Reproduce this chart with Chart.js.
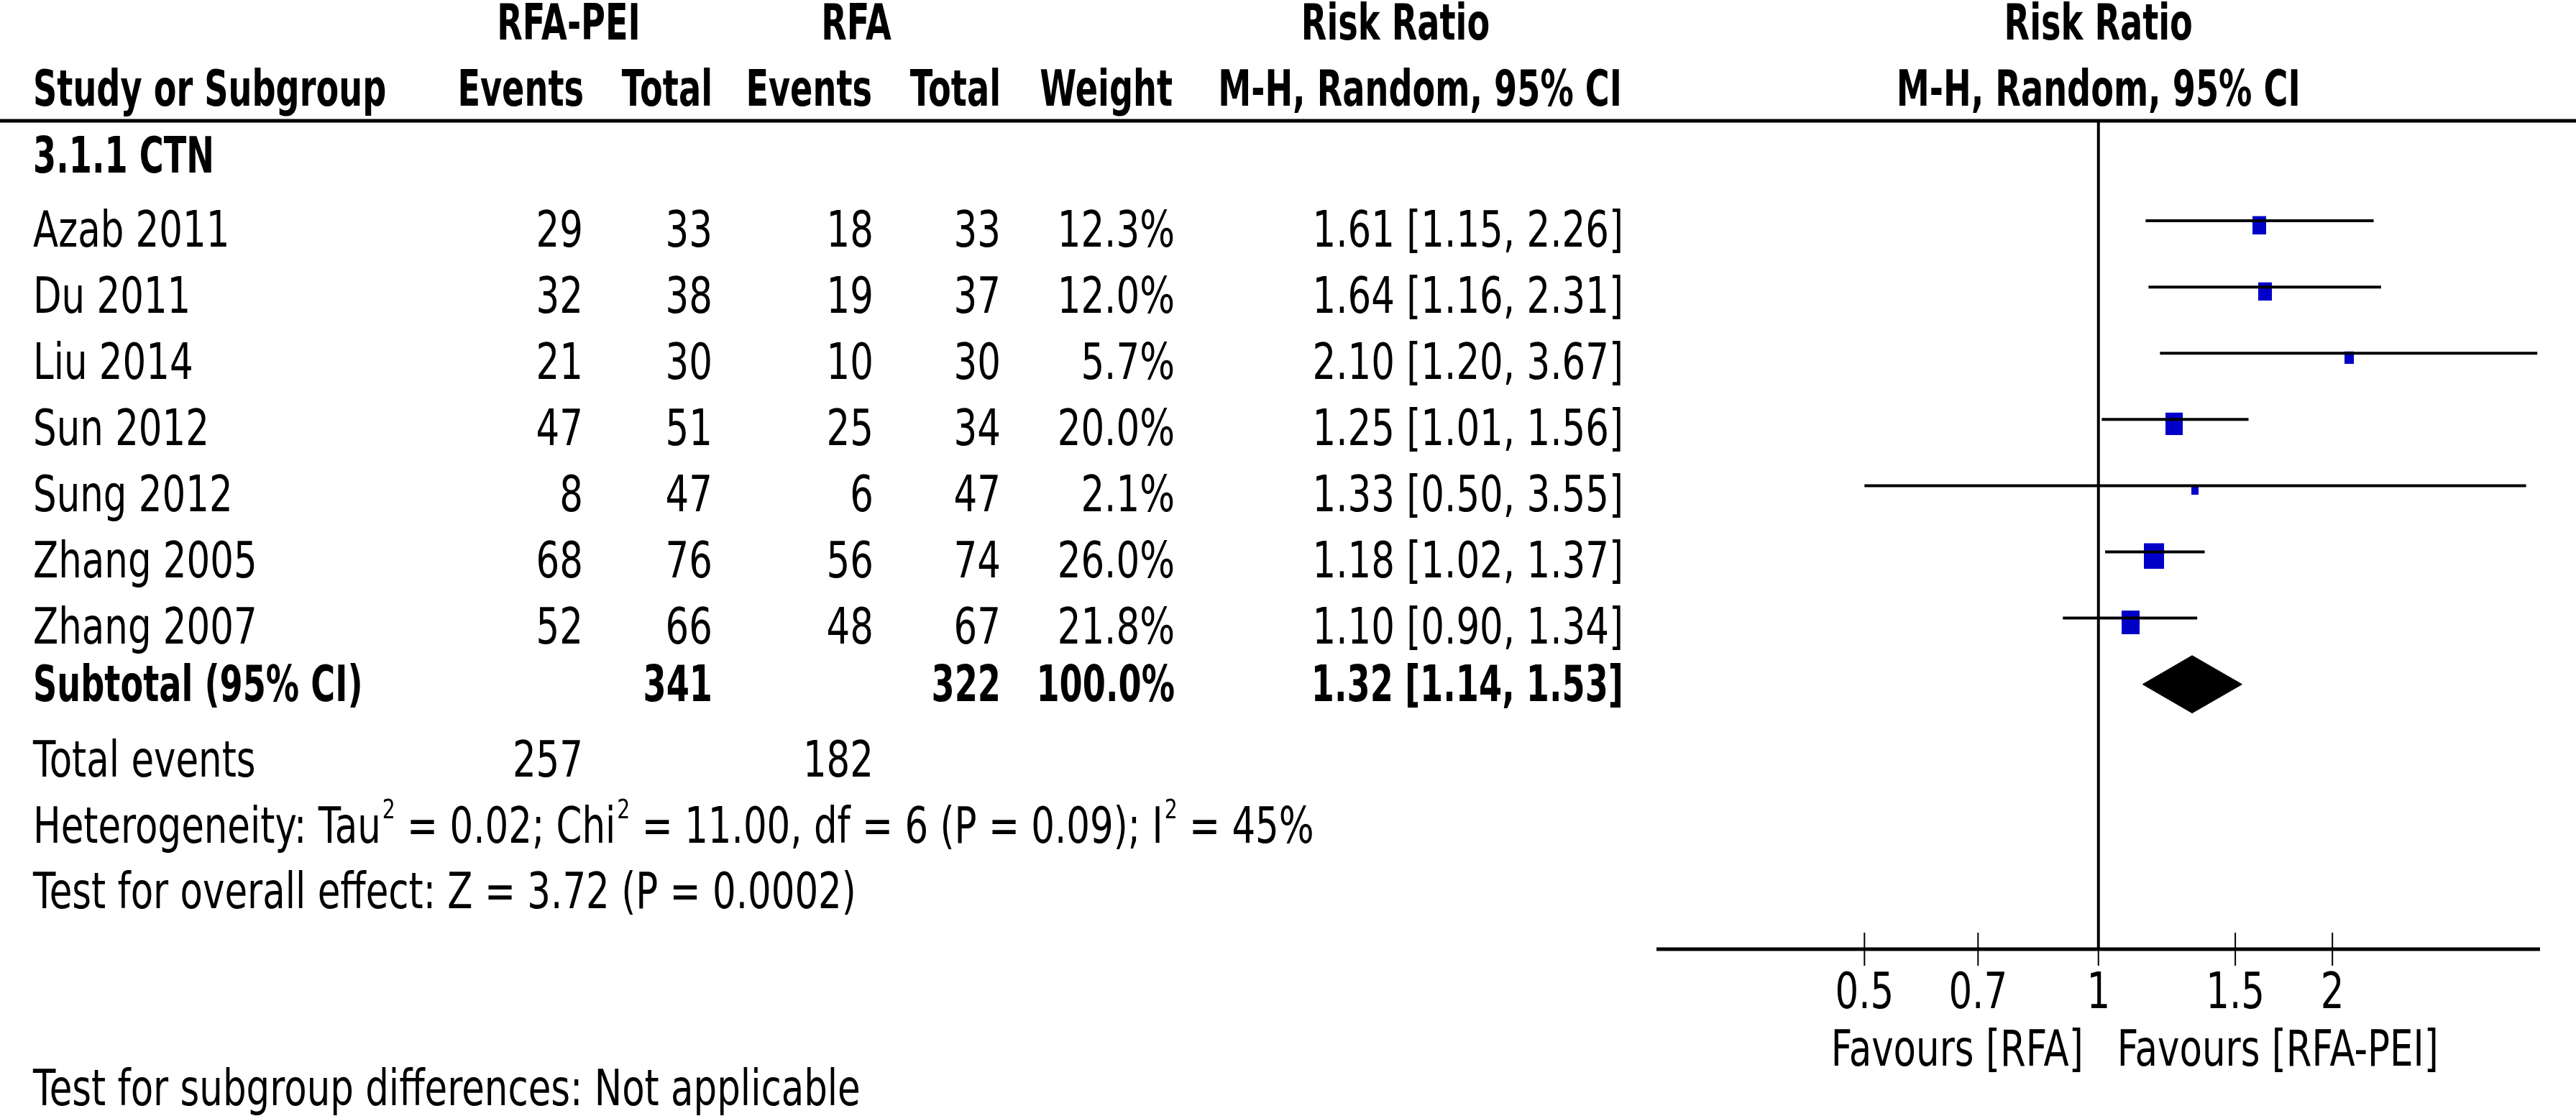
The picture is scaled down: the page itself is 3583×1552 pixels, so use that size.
<!DOCTYPE html>
<html>
<head>
<meta charset="utf-8">
<title>Forest plot - 3.1.1 CTN</title>
<script src="https://cdn.jsdelivr.net/npm/chart.js@4.4.0/dist/chart.umd.min.js"></script>
<style>
  html, body { margin: 0; padding: 0; background: #fff; }
  #forest { display: block; }
</style>
</head>
<body>
<canvas id="forest" width="3583" height="1552" style="width:3583px;height:1552px"></canvas>
<script>
// study rows
const studies   = ['Azab 2011', 'Du 2011', 'Liu 2014', 'Sun 2012', 'Sung 2012', 'Zhang 2005', 'Zhang 2007'];
const eventsPEI = [29, 32, 21, 47, 8, 68, 52];
const totalPEI  = [33, 38, 30, 51, 47, 76, 66];
const eventsRFA = [18, 19, 10, 25, 6, 56, 48];
const totalRFA  = [33, 37, 30, 34, 47, 74, 67];
const weights   = [12.3, 12.0, 5.7, 20.0, 2.1, 26.0, 21.8];
const riskRatio = [1.61, 1.64, 2.10, 1.25, 1.33, 1.18, 1.10];
const ciLow     = [1.15, 1.16, 1.20, 1.01, 0.50, 1.02, 0.90];
const ciHigh    = [2.26, 2.31, 3.67, 1.56, 3.55, 1.37, 1.34];

// subtotal
const pooled      = [1.32, 1.14, 1.53];   // estimate, low, high
const subTotals   = [341, 322];
const totalEvents = [257, 182];

// axis
const axisTicks = [0.5, 0.7, 1, 1.5, 2];
const axisMin = 0.27;
const axisMax = 3.7;

const FONT = '"DejaVu Sans"';
const SIZE = 69;

// draw text squeezed horizontally like the original condensed face
function txt(ctx, s, x, y, align, bold, size) {
    size = size || SIZE;
    const sx = bold ? 0.67 : 0.745;
    ctx.save();
    ctx.font = (bold ? 'bold ' : '') + size + 'px ' + FONT;
    ctx.textBaseline = 'alphabetic';
    ctx.textAlign = 'left';
    ctx.fillStyle = '#000';
    const w = ctx.measureText(s).width * sx;
    let left = x;
    if (align === 'right') left = x - w;
    if (align === 'center') left = x - w / 2;
    ctx.translate(left, y);
    ctx.scale(sx, 1);
    ctx.fillText(s, 0, 0);
    ctx.restore();
    return w;
}

// text with small raised "2" pieces: parts are [text, isSup]
function txtSup(ctx, parts, x, y) {
    let cx = x;
    parts.forEach(([s, isSup]) => {
        if (isSup) cx += txt(ctx, s, cx + 2, y - 34, 'left', false, 38) + 2;
        else cx += txt(ctx, s, cx, y, 'left', false);
    });
}

// one little canvas per box, padded on top so the box sits a bit below the CI line
function boxImage(w) {
    const bw = Math.max(10, Math.round(5.4 * Math.sqrt(w)));
    const bh = Math.round(bw * 1.3);
    const c = document.createElement('canvas');
    c.width = bw;
    c.height = bh + 12;
    const g = c.getContext('2d');
    g.fillStyle = '#0000c8';
    g.fillRect(0, 12, bw, bh);
    return c;
}
const boxImages = weights.map(boxImage);

const tablePlugin = {
    id: 'tablePlugin',
    beforeDatasetsDraw(chart) {
        const ctx = chart.ctx;
        const xs = chart.scales.x;
        const area = chart.chartArea;
        const x1 = xs.getPixelForValue(1);
        ctx.save();
        ctx.strokeStyle = '#000';
        // header rule
        ctx.lineWidth = 5;
        ctx.beginPath();
        ctx.moveTo(0, area.top);
        ctx.lineTo(chart.width, area.top);
        ctx.stroke();
        // line of no effect
        ctx.lineWidth = 4;
        ctx.beginPath();
        ctx.moveTo(x1, area.top);
        ctx.lineTo(x1, area.bottom);
        ctx.stroke();
        // x axis
        ctx.lineWidth = 5;
        ctx.beginPath();
        ctx.moveTo(area.left, area.bottom);
        ctx.lineTo(area.right, area.bottom);
        ctx.stroke();
        ctx.lineWidth = 2;
        axisTicks.forEach(t => {
            const px = xs.getPixelForValue(t);
            ctx.beginPath();
            ctx.moveTo(px, area.bottom - 23);
            ctx.lineTo(px, area.bottom + 23);
            ctx.stroke();
            txt(ctx, String(t), px, area.bottom + 82, 'center', false);
        });
        ctx.restore();
        txt(ctx, 'Favours [RFA]', x1 - 21, 1482, 'right', false);
        txt(ctx, 'Favours [RFA-PEI]', x1 + 26, 1482, 'left', false);
    },
    afterDraw(chart) {
        const ctx = chart.ctx;
        const x1 = chart.scales.x.getPixelForValue(1);
        // headers
        txt(ctx, 'RFA-PEI', 791, 55, 'center', true);
        txt(ctx, 'RFA', 1191, 55, 'center', true);
        txt(ctx, 'Risk Ratio', 1941, 55, 'center', true);
        txt(ctx, 'Risk Ratio', x1, 55, 'center', true);
        txt(ctx, 'Study or Subgroup', 46, 147, 'left', true);
        txt(ctx, 'Events', 812, 147, 'right', true);
        txt(ctx, 'Total', 991, 147, 'right', true);
        txt(ctx, 'Events', 1213, 147, 'right', true);
        txt(ctx, 'Total', 1392, 147, 'right', true);
        txt(ctx, 'Weight', 1631, 147, 'right', true);
        txt(ctx, 'M-H, Random, 95% CI', 2256, 147, 'right', true);
        txt(ctx, 'M-H, Random, 95% CI', x1, 147, 'center', true);
        txt(ctx, '3.1.1 CTN', 46, 240, 'left', true);

        // study rows
        studies.forEach((s, i) => {
            const y = 343 + 92 * i;
            txt(ctx, s, 46, y, 'left', false);
            txt(ctx, String(eventsPEI[i]), 811, y, 'right', false);
            txt(ctx, String(totalPEI[i]), 991, y, 'right', false);
            txt(ctx, String(eventsRFA[i]), 1215, y, 'right', false);
            txt(ctx, String(totalRFA[i]), 1392, y, 'right', false);
            txt(ctx, weights[i].toFixed(1) + '%', 1634, y, 'right', false);
            txt(ctx, riskRatio[i].toFixed(2) + ' [' + ciLow[i].toFixed(2) + ', ' + ciHigh[i].toFixed(2) + ']', 2258, y, 'right', false);
        });

        // subtotal
        txt(ctx, 'Subtotal (95% CI)', 46, 975, 'left', true);
        txt(ctx, String(subTotals[0]), 991, 975, 'right', true);
        txt(ctx, String(subTotals[1]), 1392, 975, 'right', true);
        txt(ctx, '100.0%', 1634, 975, 'right', true);
        txt(ctx, pooled[0].toFixed(2) + ' [' + pooled[1].toFixed(2) + ', ' + pooled[2].toFixed(2) + ']', 2258, 975, 'right', true);

        txt(ctx, 'Total events', 46, 1080, 'left', false);
        txt(ctx, String(totalEvents[0]), 811, 1080, 'right', false);
        txt(ctx, String(totalEvents[1]), 1215, 1080, 'right', false);
        txtSup(ctx, [
            ['Heterogeneity: Tau', false], ['2', true],
            [' = 0.02; Chi', false], ['2', true],
            [' = 11.00, df = 6 (P = 0.09); I', false], ['2', true],
            [' = 45%', false]
        ], 46, 1172);
        txt(ctx, 'Test for overall effect: Z = 3.72 (P = 0.0002)', 46, 1263, 'left', false);
        txt(ctx, 'Test for subgroup differences: Not applicable', 46, 1537, 'left', false);
    }
};

// CI whiskers, one dataset each
const ciSets = studies.map((s, i) => ({
    label: s,
    data: [{x: ciLow[i], y: i}, {x: ciHigh[i], y: i}],
    showLine: true,
    borderColor: '#000',
    borderWidth: 4,
    pointRadius: 0,
    borderCapStyle: 'butt'
}));

const boxSet = {
    label: 'Risk ratio',
    data: riskRatio.map((v, i) => ({x: v, y: i})),
    pointStyle: ctx => boxImages[ctx.dataIndex],
    pointRadius: 1,
    showLine: false
};

const dRow = studies.length;   // subtotal row
const dHalf = 0.434;           // half height of the diamond in row units
const diamondSet = {
    label: 'Subtotal',
    data: [
        {x: pooled[1], y: dRow},
        {x: pooled[0], y: dRow - dHalf},
        {x: pooled[2], y: dRow},
        {x: pooled[0], y: dRow + dHalf},
        {x: pooled[1], y: dRow}
    ],
    showLine: true,
    fill: 'shape',
    backgroundColor: '#000',
    borderColor: '#000',
    borderWidth: 1,
    pointRadius: 0
};

new Chart(document.getElementById('forest'), {
    type: 'scatter',
    data: { datasets: [...ciSets, boxSet, diamondSet] },
    options: {
        responsive: false,
        devicePixelRatio: 1,
        animation: false,
        layout: { padding: { left: 2304, right: 50, top: 168, bottom: 232 } },
        scales: {
            x: { type: 'logarithmic', min: axisMin, max: axisMax, display: false },
            y: { type: 'linear', min: -1.51, max: 11.0, reverse: true, display: false }
        },
        plugins: {
            legend: { display: false },
            tooltip: { enabled: false }
        }
    },
    plugins: [tablePlugin]
});
</script>
</body>
</html>
